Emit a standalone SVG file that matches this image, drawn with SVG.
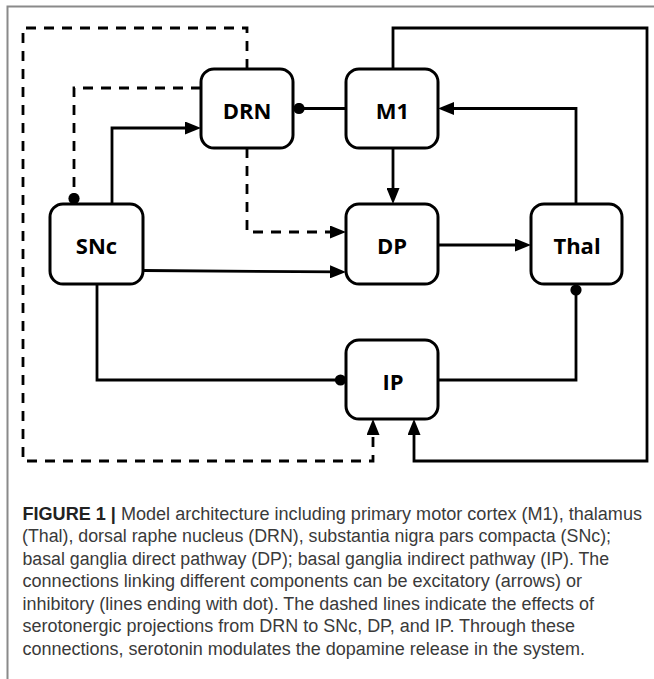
<svg xmlns="http://www.w3.org/2000/svg" width="654" height="679" viewBox="0 0 654 679">
<style>
.node rect{fill:#fff;stroke:#000;stroke-width:3}
.node text{font-family:"Open Sans","DejaVu Sans",sans-serif;font-weight:bold;font-size:22px;text-anchor:middle;fill:#000}
.c{fill:none;stroke:#000;stroke-width:2.8}
.d{stroke-dasharray:10 8}
.cap{font-family:"Liberation Sans",Arial,sans-serif;font-size:18px;fill:#3a3a3a}
.frame{stroke:#8a8a8a;stroke-width:2;fill:none}
</style>
<defs>
<marker id="arr" markerUnits="userSpaceOnUse" markerWidth="16" markerHeight="13" refX="8" refY="6.5" orient="auto">
<path d="M0,0 L16,6.5 L0,13 z" fill="#000"/>
</marker>
<marker id="dot" markerUnits="userSpaceOnUse" markerWidth="12" markerHeight="12" refX="6" refY="6" orient="auto">
<circle cx="6" cy="6" r="5.6" fill="#000"/>
</marker>
</defs>
<rect width="654" height="679" fill="#fff"/>
<path class="frame" d="M7.5,679 V6.5 H654"/>
<g id="connectors">
<path class="c d" d="M247,69 V28 H23 V461 H373 V427" marker-end="url(#arr)"/>
<path class="c d" d="M201,88 H74 V198.5" marker-end="url(#dot)"/>
<path class="c d" d="M247,148 V232 H338" marker-end="url(#arr)"/>
<path class="c" d="M112,204 V128 H193" marker-end="url(#arr)"/>
<path class="c" d="M346,108.5 H299" marker-end="url(#dot)"/>
<path class="c" d="M393,69 V28 H647 V461 H414 V427" marker-end="url(#arr)"/>
<path class="c" d="M576,204 V108.5 H446" marker-end="url(#arr)"/>
<path class="c" d="M393,148 V196" marker-end="url(#arr)"/>
<path class="c" d="M438,245 H523" marker-end="url(#arr)"/>
<path class="c" d="M143,270.5 L338,271.9" marker-end="url(#arr)"/>
<path class="c" d="M97,284 V380 H340.5" marker-end="url(#dot)"/>
<path class="c" d="M438,380 H576 V290" marker-end="url(#dot)"/>
</g>
<g id="DRN" class="node"><rect x="201" y="69" width="92" height="79" rx="13"/><text x="247" y="118.5">DRN</text></g>
<g id="M1" class="node"><rect x="346" y="69" width="92" height="79" rx="13"/><text x="392.5" y="118.5">M1</text></g>
<g id="SNc" class="node"><rect x="50" y="204" width="93" height="80" rx="13"/><text x="96.5" y="254">SNc</text></g>
<g id="DP" class="node"><rect x="346" y="204" width="92" height="80" rx="13"/><text x="392" y="254">DP</text></g>
<g id="Thal" class="node"><rect x="531" y="204" width="91" height="80" rx="13"/><text x="577" y="254">Thal</text></g>
<g id="IP" class="node"><rect x="346" y="340" width="92" height="79" rx="13"/><text x="393" y="389.5">IP</text></g>
<g id="caption" class="cap">
<text x="22.5" y="519.5" textLength="619.5" lengthAdjust="spacingAndGlyphs"><tspan font-weight="bold" fill="#222">FIGURE 1 |</tspan> Model architecture including primary motor cortex (M1), thalamus</text>
<text x="22" y="542" textLength="589" lengthAdjust="spacingAndGlyphs">(Thal), dorsal raphe nucleus (DRN), substantia nigra pars compacta (SNc);</text>
<text x="22.5" y="564.5" textLength="586.5" lengthAdjust="spacingAndGlyphs">basal ganglia direct pathway (DP); basal ganglia indirect pathway (IP). The</text>
<text x="22.5" y="587" textLength="559.5" lengthAdjust="spacingAndGlyphs">connections linking different components can be excitatory (arrows) or</text>
<text x="22.5" y="609.5" textLength="571.5" lengthAdjust="spacingAndGlyphs">inhibitory (lines ending with dot). The dashed lines indicate the effects of</text>
<text x="22.5" y="632" textLength="552.5" lengthAdjust="spacingAndGlyphs">serotonergic projections from DRN to SNc, DP, and IP. Through these</text>
<text x="22.5" y="654.5" textLength="562.5" lengthAdjust="spacingAndGlyphs">connections, serotonin modulates the dopamine release in the system.</text>
</g>
</svg>
